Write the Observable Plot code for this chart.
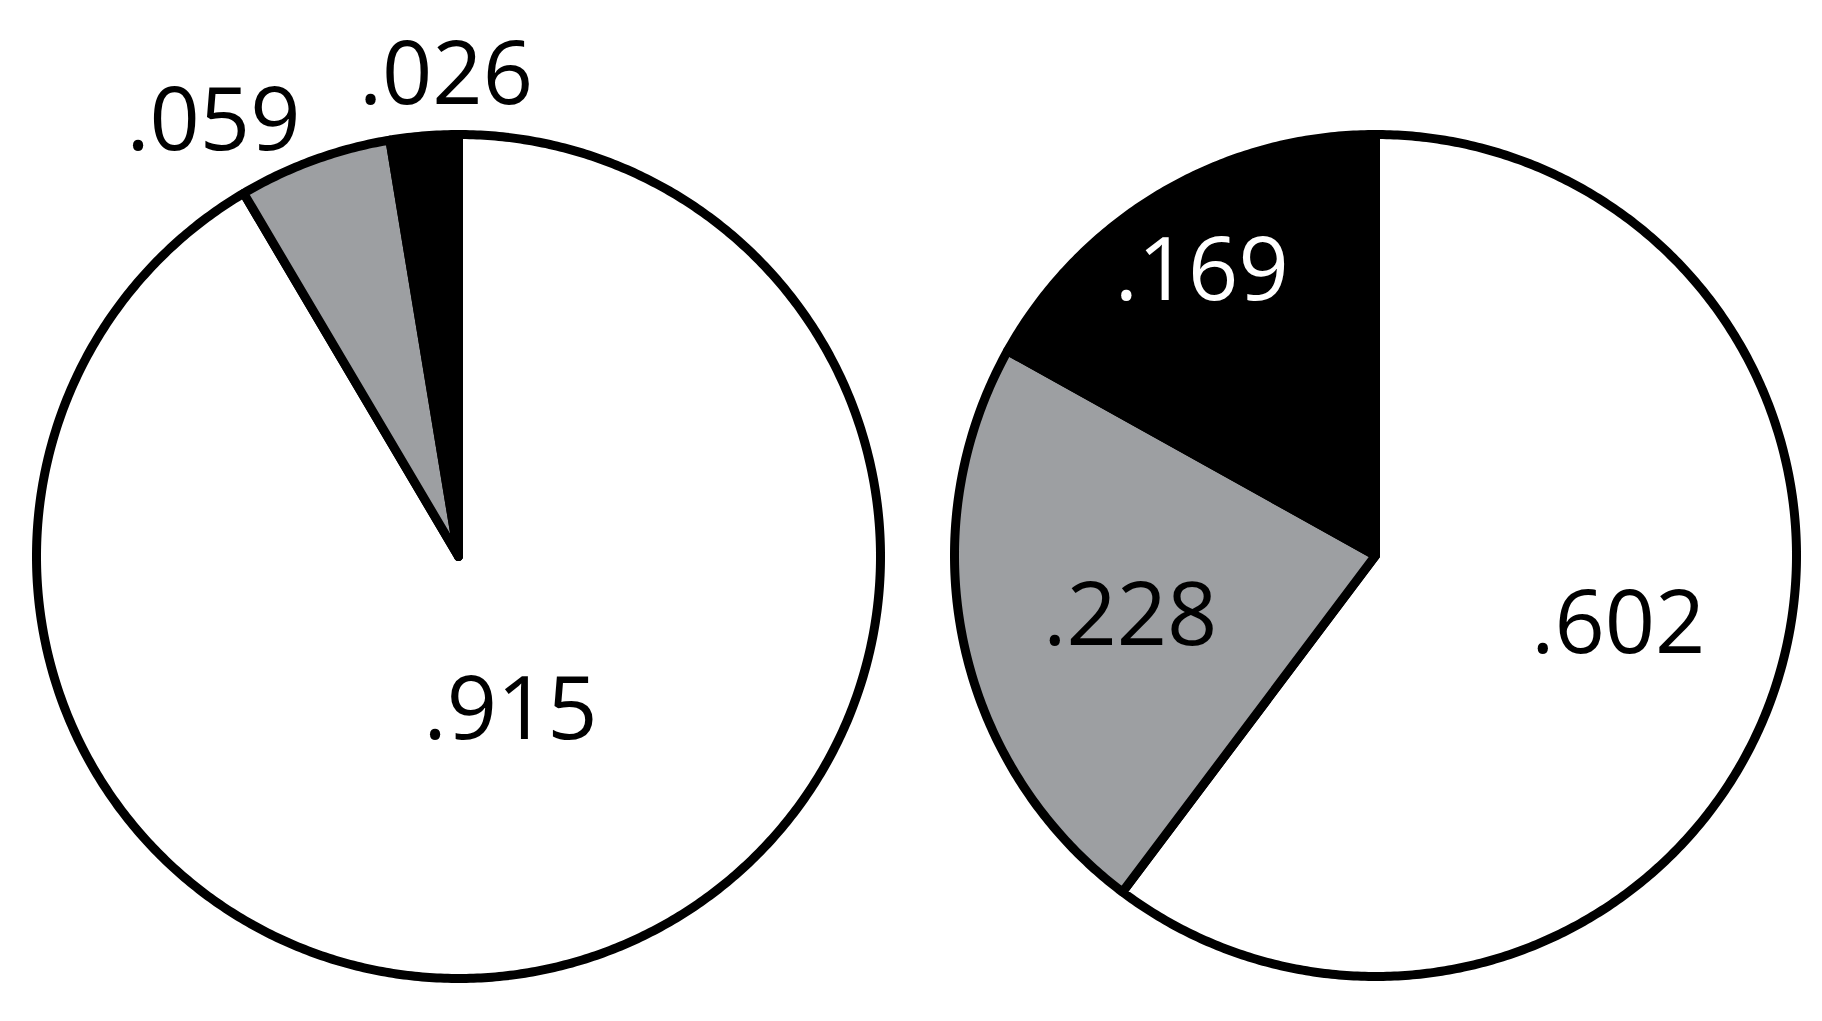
<!DOCTYPE html>
<html>
<head>
<meta charset="utf-8">
<script src="https://cdn.jsdelivr.net/npm/d3@7"></script>
<script src="https://cdn.jsdelivr.net/npm/@observablehq/plot@0.6"></script>
<style>
  html, body { margin: 0; padding: 0; background: #fff; }
  #chart svg { display: block; }
</style>
</head>
<body>
<div id="chart"></div>
<script>
// ---- data ----
const pies = ["left", "right"];
const categories = ["white", "gray", "black"];
const leftValues = [0.915, 0.059, 0.026];
const rightValues = [0.602, 0.228, 0.169];
const leftLabels = [".915", ".059", ".026"];
const rightLabels = [".602", ".228", ".169"];
const sliceColors = ["#ffffff", "#9d9fa2", "#000000"];
const leftLabelColors = ["#000000", "#000000", "#000000"];
const rightLabelColors = ["#000000", "#000000", "#ffffff"];

// ---- layout ----
const W = 1822, H = 1021;
const radius = {left: 422, right: 421};
const centers = {left: [458, 556], right: [1375, 555]};
// label placement (polar, degrees clockwise from 12 o'clock; radius as fraction of pie radius)
const labelAngle = {left: [161.3, 330.6, 358.5], right: [106, 256, 328.5]};
const labelRadius = {left: [0.385, 1.183, 1.14], right: [0.60, 0.60, 0.79]};

const valuesOf = {left: leftValues, right: rightValues};
const labelsOf = {left: leftLabels, right: rightLabels};
const labelColorsOf = {left: leftLabelColors, right: rightLabelColors};

const slicePts = [];
const labelRows = [];
for (const p of pies) {
  const [cx, cy] = centers[p];
  const R = radius[p];
  const arcs = d3.pie().sort(null).startAngle(0).endAngle(2 * Math.PI)(valuesOf[p]);
  arcs.forEach((a, i) => {
    const id = p + "-" + categories[i];
    const pt = (ang, r) => ({id, color: sliceColors[i], x: cx + r * Math.sin(ang), y: cy - r * Math.cos(ang)});
    slicePts.push(pt(0, 0));
    const span = a.endAngle - a.startAngle;
    const n = Math.max(2, Math.ceil(span / (Math.PI / 360)));
    for (let k = 0; k <= n; k++) slicePts.push(pt(a.startAngle + span * k / n, R));
    slicePts.push(pt(0, 0));
    const la = labelAngle[p][i] * Math.PI / 180, lr = labelRadius[p][i] * R;
    labelRows.push({text: labelsOf[p][i], color: labelColorsOf[p][i], x: cx + lr * Math.sin(la), y: cy - lr * Math.cos(la)});
  });
}

const chart = Plot.plot({
  width: W,
  height: H,
  margin: 0,
  x: {domain: [0, W], range: [0, W], axis: null},
  y: {domain: [0, H], range: [0, H], axis: null},
  style: {background: "#fff"},
  marks: [
    Plot.line(slicePts, {
      x: "x", y: "y", z: "id",
      fill: "color",
      stroke: "#000",
      strokeWidth: 9,
      strokeLinejoin: "round",
      strokeLinecap: "round",
      curve: "linear"
    }),
    Plot.text(labelRows, {
      x: "x", y: "y", text: "text",
      fill: "color",
      fontSize: 88,
      fontFamily: "Open Sans",
      textAnchor: "middle",
      lineAnchor: "middle",
      letterSpacing: "-0.03em"
    })
  ]
});
document.getElementById("chart").appendChild(chart);
</script>
</body>
</html>
